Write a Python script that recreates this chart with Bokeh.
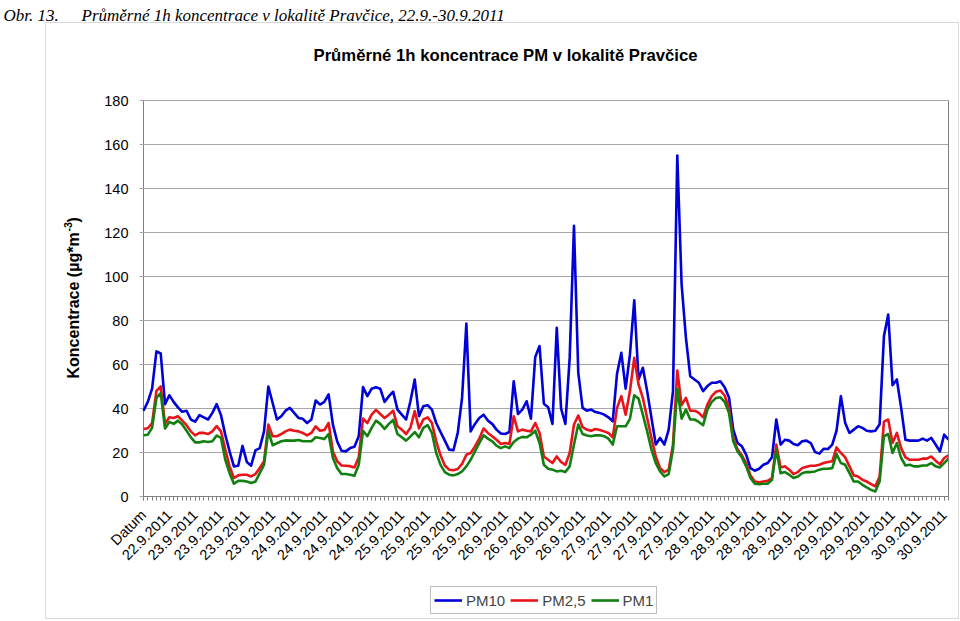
import math
from bokeh.plotting import figure
from bokeh.models import (ColumnDataSource, FixedTicker, Legend, LegendItem, Range1d,
                          Label, LinearAxis, BoxAnnotation)
from bokeh.embed import file_html
from bokeh.resources import INLINE

# ---------------- data (hourly means) ----------------
pm10 = [39, 43, 49, 66, 65, 42, 46, 43, 40.5, 38.5,
        39, 35, 34, 37, 36, 35, 38, 42, 37, 28,
        20.5, 13.7, 14, 23, 15.7, 14, 21, 22, 29.6, 50,
        42.5, 35, 36.5, 39, 40.3, 38, 35.7, 35.3, 33.4, 35,
        43.6, 41.8, 43, 46.4, 32.7, 25, 20.8, 20.5, 22, 22.6,
        27.4, 49.7, 45.6, 49, 49.7, 49, 43, 45.6, 47.6, 39.5,
        37.2, 35, 43.3, 53.2, 36.5, 41, 41.5, 39.5, 33.4, 29.3,
        25.4, 21.3, 21, 28.9, 44.8, 78.6, 29.6, 33, 35.7, 37.2,
        34.5, 33, 30.4, 28.6, 28.4, 29.3, 52.4, 37.5, 39.5, 43.3,
        35.4, 63.4, 68.4, 42.2, 40.6, 33, 76.7, 40, 33, 63,
        123, 56.2, 40.3, 39, 39.5, 38.4, 38, 37.2, 36, 34.2,
        55.8, 65.3, 49, 64.6, 89.2, 53.2, 58.5, 47.9, 35.7, 23.6,
        26.6, 23.6, 30.4, 47.9, 155, 96.5, 72.2, 54.7, 53.2, 51.7,
        47.9, 50.2, 51.7, 51.7, 52.4, 49.7, 45.1, 30.4, 24.3, 22.8,
        19, 12.9, 11.7, 12.6, 14.4, 15.2, 17.8, 35, 23.6, 25.8,
        25.4, 23.9, 23.3, 25.1, 25.4, 24.3, 20.2, 19.5, 21.7, 21.6,
        23.6, 30, 45.6, 33.4, 28.9, 30.4, 31.9, 31.2, 29.9, 29.6,
        29.9, 32.8, 72.8, 82.7, 50.6, 53.2, 40.3, 25.8, 25.4, 25.4,
        25.4, 26.3, 25.4, 26.6, 23.6, 20.5, 28.1, 25.8]

pm25 = [30.7, 31, 33.4, 48, 50, 33, 36, 35.7, 36.5, 34.5,
        32.4, 29.6, 27.8, 28.9, 28.9, 28.4, 29.6, 32, 29.6, 21.3,
        13.7, 8.4, 9.6, 9.9, 9.9, 9.1, 10.2, 12.9, 16, 32.7,
        27.4, 27.4, 28.4, 29.6, 30.4, 29.9, 29.6, 28.9, 27.8, 28.9,
        31.9, 29.9, 30.2, 33.4, 20.5, 16, 14.1, 14, 13.8, 13.2,
        17.8, 35.4, 33.4, 37.2, 39.4, 37.5, 35.7, 37.2, 39, 31.9,
        30.4, 28.4, 31.2, 38.8, 30.9, 35, 36, 33.4, 25.1, 18.7,
        14.1, 12.2, 11.9, 12.5, 14.8, 19, 19.8, 22.8, 26.3, 30.9,
        28.9, 27.4, 25.8, 23.9, 24.3, 23.9, 36.5, 29.6, 30.4, 29.9,
        29.6, 33.4, 28.9, 18.2, 16.7, 15.2, 18.2, 15.7, 14.4, 19.8,
        32.7, 36.8, 31.5, 30.4, 29.9, 30.7, 30.2, 29.6, 28.9, 26.9,
        40.3, 45.6, 37.2, 47.9, 63, 50.9, 44.8, 35.7, 26.6, 18.2,
        12.9, 11.1, 12.2, 23.6, 57.3, 41.5, 44.8, 39, 39, 38,
        36, 41.8, 45.6, 47.6, 48.2, 45.9, 40.3, 26.6, 21.3, 18.7,
        15.2, 9.6, 6.8, 6.5, 6.8, 7.1, 8.4, 23.6, 13.2, 13.7,
        12.2, 10.2, 11.1, 12.9, 13.5, 14, 14, 14.4, 15.2, 15.7,
        16, 22.3, 19.8, 17.8, 13.7, 9.6, 9.1, 7.6, 6.8, 5.6,
        4.6, 9.1, 34, 35, 24.3, 28.9, 22, 17.8, 16.7, 16.7,
        16.7, 17.2, 17.2, 18.2, 16.3, 14.7, 17.5, 18.7]

pm1 = [27.8, 28.1, 31.2, 44.8, 47, 30.9, 33.9, 33, 34.5, 32.7,
       29.9, 26.9, 24.6, 24.6, 25.1, 24.8, 25.1, 27.7, 26.6, 16.7,
       10.6, 5.8, 7.1, 7.1, 6.8, 6.1, 6.8, 10.6, 14.4, 29.6,
       23.3, 24.2, 25.1, 25.5, 25.4, 25.4, 25.7, 25.1, 25.1, 25.1,
       26.9, 26.6, 26.1, 28.4, 17.5, 12.9, 10.2, 10.2, 9.9, 9.4,
       14.4, 29.9, 27.4, 31.2, 34.5, 33, 30.7, 33, 34.8, 28.4,
       26.9, 25.4, 27.2, 29.3, 26.9, 31.2, 32.4, 28.9, 19.8, 14.4,
       11.1, 9.9, 9.6, 10.2, 11.4, 13.7, 16.7, 20.5, 24.3, 27.8,
       26.3, 25.1, 23.1, 22, 22.8, 22, 24.8, 26.3, 27.1, 26.9,
       28.1, 29.9, 24.3, 14.4, 12.6, 12.2, 11.4, 11.7, 11.1, 13.7,
       23.6, 32.7, 28.4, 27.7, 27.4, 27.8, 27.8, 27.4, 26.3, 23.6,
       31.9, 31.9, 31.9, 35.3, 46, 44.5, 37.2, 29.6, 21.3, 15.2,
       11.4, 9.1, 10.2, 21.3, 49, 35.4, 39.5, 35, 35, 33.9,
       32.4, 39.5, 43, 44.8, 45.1, 43, 38, 25.1, 20.5, 17.8,
       13.7, 8.4, 5.8, 5.6, 5.8, 5.8, 7.6, 21.3, 10.6, 11.1,
       9.9, 8.4, 9.1, 10.6, 11.1, 11.1, 11.4, 12.2, 12.6, 12.6,
       12.9, 19.3, 15.2, 14.4, 10.6, 6.8, 6.8, 5.3, 4.1, 3,
       2.3, 6.8, 27.4, 28.4, 19.8, 24.3, 17.5, 14.1, 14.4, 13.7,
       13.7, 14.1, 14.1, 15.2, 13.7, 13.2, 15.2, 17.2]

# category labels shown every 6th hour
tick_labels = ["Datum", "22.9.2011",
               "23.9.2011", "23.9.2011", "23.9.2011", "23.9.2011",
               "24.9.2011", "24.9.2011", "24.9.2011", "24.9.2011",
               "25.9.2011", "25.9.2011", "25.9.2011", "25.9.2011",
               "26.9.2011", "26.9.2011", "26.9.2011", "26.9.2011",
               "27.9.2011", "27.9.2011", "27.9.2011", "27.9.2011",
               "28.9.2011", "28.9.2011", "28.9.2011", "28.9.2011",
               "29.9.2011", "29.9.2011", "29.9.2011", "29.9.2011",
               "30.9.2011", "30.9.2011"]
label_step = 6
y_ticks = [0, 20, 40, 60, 80, 100, 120, 140, 160, 180]

series_names = ["PM10", "PM2,5", "PM1"]
series_colors = ["#0000d8", "#e8141a", "#118011"]

caption_num = "Obr. 13."
caption_text = "Průměrné 1h koncentrace v lokalitě Pravčice, 22.9.-30.9.2011"
chart_title = "Průměrné 1h koncentrace PM v lokalitě Pravčice"
y_title = "Koncentrace (µg*m"
y_title_sup = "-3"
y_title_end = ")"

FONT = "Liberation Sans"
AX = "#808080"
GRID = "#a6a6a6"

# ---------------- geometry (page pixels) ----------------
W, H = 960, 621
PL, PR, PT, PB = 143, 948, 100, 496      # plot area edges
BOX = (45, 22, 958, 618)                 # chart area border

n = len(pm10)
x_lo, x_hi = 0, n - 1
y_lo, y_hi = y_ticks[0], y_ticks[-1]
sx = (PR - PL) / (x_hi - x_lo)           # px per category
sy = (PB - PT) / (y_hi - y_lo)           # px per unit
x_range = Range1d(x_lo - PL / sx, x_hi + (W - PR) / sx)
y_range = Range1d(y_lo - (H - PB) / sy, y_hi + PT / sy)

def X(px):          # page x -> screen x (frame covers the whole canvas)
    return px

def Y(py):          # page y -> screen y (measured from bottom)
    return H - py

xs = list(range(n))
src = ColumnDataSource(dict(x=xs, pm10=pm10, pm25=pm25, pm1=pm1))

p = figure(width=W, height=H, frame_width=W, frame_height=H,
           output_backend="svg", toolbar_location=None,
           x_range=x_range, y_range=y_range, min_border=0,
           background_fill_color="white", border_fill_color="white",
           outline_line_color=None)
p.title.visible = False
p.xgrid.visible = False
p.ygrid.visible = False

# ---- y axis at x=0; its inward ticks form the horizontal grid lines ----
yax = p.yaxis[0]
yax.fixed_location = x_lo
yax.bounds = (y_lo, y_hi)
yax.ticker = FixedTicker(ticks=y_ticks)
yax.axis_line_color = AX
yax.major_tick_line_color = GRID
yax.major_tick_out = 4
yax.major_tick_in = PR - PL
yax.minor_tick_line_color = None
yax.major_label_text_font = FONT
yax.major_label_text_font_size = "14.5px"
yax.major_label_text_color = "black"
yax.major_label_standoff = 11
yax.level = "underlay"

# ---- x axis at y=0 ----
major = [i * label_step for i in range(len(tick_labels))]
xax = p.xaxis[0]
xax.fixed_location = y_lo
xax.bounds = (x_lo, x_hi)
xax.ticker = FixedTicker(ticks=major, minor_ticks=xs)
xax.major_label_overrides = {t: lab for t, lab in zip(major, tick_labels)}
xax.major_label_orientation = math.pi / 4
xax.axis_line_color = AX
xax.major_tick_line_color = AX
xax.minor_tick_line_color = AX
xax.major_tick_out = 4
xax.major_tick_in = 0
xax.minor_tick_out = 4
xax.minor_tick_in = 0
xax.major_label_text_font = FONT
xax.major_label_text_font_size = "14.5px"
xax.major_label_text_color = "black"
xax.major_label_standoff = 12

# ---- right border of the plot area ----
rax = LinearAxis(fixed_location=x_hi, bounds=(y_lo, y_hi),
                 ticker=FixedTicker(ticks=[]), axis_line_color=AX,
                 major_tick_line_color=None, minor_tick_line_color=None,
                 major_tick_out=0, major_tick_in=0, minor_tick_out=0, minor_tick_in=0)
p.add_layout(rax, "right")

# ---- data lines ----
renderers = []
for key, col in zip(["pm10", "pm25", "pm1"], series_colors):
    r = p.line("x", key, source=src, line_color=col, line_width=2.6,
               line_join="round")
    renderers.append(r)

# ---- chart area border ----
p.add_layout(BoxAnnotation(left=X(BOX[0]), right=X(BOX[2]), top=Y(BOX[1]),
                           bottom=Y(BOX[3]), left_units="screen",
                           right_units="screen", top_units="screen",
                           bottom_units="screen", fill_alpha=0,
                           line_color=AX, line_width=1, level="underlay"))

# ---- legend ----
legend = Legend(items=[LegendItem(label=nm, renderers=[r])
                       for nm, r in zip(series_names, renderers)],
                orientation="horizontal", location=(X(430), Y(614)),
                border_line_color=AX, border_line_width=1,
                label_text_font=FONT, label_text_font_size="15px",
                glyph_width=28, glyph_height=20, label_height=20,
                spacing=5, padding=3, label_standoff=4, margin=0,
                background_fill_color="white", background_fill_alpha=1)
p.add_layout(legend)

# ---- texts ----
def label(text, px, py, **kw):
    p.add_layout(Label(x=X(px), y=Y(py), x_units="screen", y_units="screen",
                       text=text, text_color="black", **kw))

label(caption_num, 3, 15, text_font="Liberation Serif", text_font_style="italic",
      text_font_size="17px", text_baseline="alphabetic", text_align="left")
label(caption_text, 81, 15, text_font="Liberation Serif", text_font_style="italic",
      text_font_size="17px", text_baseline="alphabetic", text_align="left")
label(chart_title, 313, 55, text_font=FONT, text_font_style="bold",
      text_font_size="16.7px", text_baseline="alphabetic", text_align="left")

label(y_title, 73, 378, angle=math.pi / 2, text_font=FONT, text_font_style="bold",
      text_font_size="16px", text_baseline="alphabetic", text_align="left")
label(y_title_sup, 67, 231, angle=math.pi / 2, text_font=FONT,
      text_font_style="bold", text_font_size="10.5px", text_baseline="alphabetic",
      text_align="left")
label(y_title_end, 73, 222, angle=math.pi / 2, text_font=FONT,
      text_font_style="bold", text_font_size="16px", text_baseline="alphabetic",
      text_align="left")

open("out.html", "w").write(file_html(p, INLINE))
